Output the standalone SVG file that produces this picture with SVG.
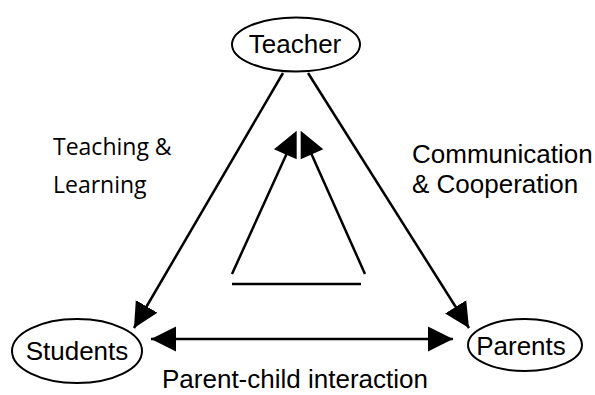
<svg xmlns="http://www.w3.org/2000/svg" width="595" height="395" viewBox="0 0 595 395">
<style>
.node{fill:#fff;stroke:#000;stroke-width:2}
.lbl{font-family:"Liberation Sans",Arial,sans-serif;font-size:26px;fill:#000}
.cal{font-family:"Open Sans","Liberation Sans",sans-serif;font-size:23px;fill:#000}
.ln{stroke:#000;stroke-width:2.5;fill:none}
</style>
<defs>
<marker id="ah" markerUnits="userSpaceOnUse" markerWidth="26" markerHeight="26" viewBox="0 0 26 26" refX="25" refY="13" orient="auto-start-reverse">
<path d="M0,0.5 L25,13 L0,25.5 Z" fill="#000"/>
</marker>
</defs>
<rect width="595" height="395" fill="#fff"/>
<g id="connectors">
<line class="ln" x1="283" y1="73" x2="134" y2="328" marker-end="url(#ah)"/>
<line class="ln" x1="308" y1="73" x2="469" y2="328" marker-end="url(#ah)"/>
<line class="ln" x1="151" y1="339" x2="453" y2="339" marker-start="url(#ah)" marker-end="url(#ah)"/>
<line class="ln" x1="232" y1="274" x2="287" y2="153"/>
<line class="ln" x1="365" y1="274" x2="311" y2="153"/>
<line class="ln" x1="232" y1="284" x2="361" y2="284"/>
<polygon points="296.7,130.7 274,149.3 296.7,159.3" fill="#000"/>
<polygon points="300.7,130.7 323.3,149.3 300.7,159.3" fill="#000"/>
</g>
<g id="teacher">
<ellipse class="node" cx="296" cy="44.5" rx="64" ry="27"/>
<text class="lbl" x="295" y="53" text-anchor="middle">Teacher</text>
</g>
<g id="students">
<ellipse class="node" cx="77" cy="351" rx="65" ry="32"/>
<text class="lbl" x="77" y="360" text-anchor="middle">Students</text>
</g>
<g id="parents">
<ellipse class="node" cx="525" cy="345" rx="57" ry="26"/>
<text class="lbl" x="521" y="355" text-anchor="middle">Parents</text>
</g>
<g id="labels">
<text class="cal" x="53" y="155">Teaching &amp;</text>
<text class="cal" x="53" y="193">Learning</text>
<text class="lbl" x="412" y="163">Communication</text>
<text class="lbl" x="412" y="193">&amp; Cooperation</text>
<text class="lbl" x="162" y="388">Parent-child interaction</text>
</g>
</svg>
